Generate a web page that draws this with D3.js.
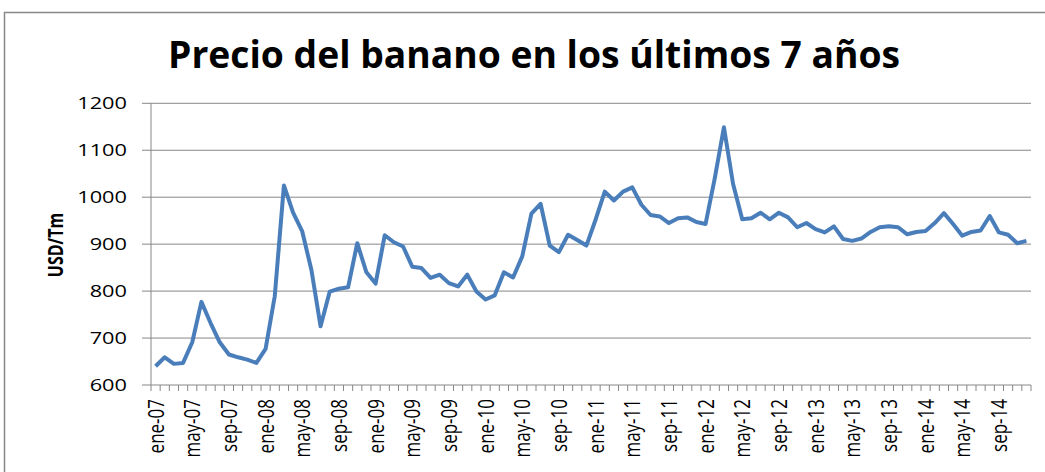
<!DOCTYPE html>
<html><head><meta charset="utf-8">
<script src="https://cdn.jsdelivr.net/npm/d3@7"></script>
<style>body{margin:0;background:#fff}svg{display:block}</style>
</head><body>
<svg id="c" width="1045" height="472"></svg>
<script>
const months = ["ene","feb","mar","abr","may","jun","jul","ago","sep","oct","nov","dic"];
const years = ["07","08","09","10","11","12","13","14"];
const categories = [];
years.forEach(y => months.forEach(m => categories.push(m + "-" + y)));
const prices = [
 640,659,645,647,691,777,732,691,665,659,654,647,
 677,789,1025,967,927,845,725,799,805,808,902,840,
 816,919,904,895,852,849,828,835,817,810,835,799,
 782,791,840,829,874,965,986,897,883,920,909,897,
 952,1012,993,1012,1021,984,962,959,945,955,957,947,
 943,1040,1149,1028,953,955,967,953,967,957,936,945,
 932,925,938,911,907,912,926,936,938,936,921,926,
 928,945,966,943,918,926,929,960,925,920,902,907
];
const yTicks = [600,700,800,900,1000,1100,1200];
const title = "Precio del banano en los últimos 7 años";
const yTitle = "USD/Tm";

const svg = d3.select("#c");
const L = 151, R = 1031, T = 103.3, B = 385;
svg.append("rect").attr("x",4.5).attr("y",12.5).attr("width",1100).attr("height",600)
  .attr("fill","#fff").attr("stroke","#878787").attr("stroke-width",1.5);

const x = d3.scaleBand().domain(categories).range([L,R]);
const y = d3.scaleLinear().domain([600,1200]).range([B,T]);

// gridlines
svg.append("g").selectAll("line").data(yTicks).join("line")
  .attr("x1",L-9).attr("x2",R).attr("y1",d=>y(d)).attr("y2",d=>y(d))
  .attr("stroke","#878787").attr("stroke-width",1);
// y axis
svg.append("line").attr("x1",L).attr("x2",L).attr("y1",T).attr("y2",B).attr("stroke","#878787");
svg.append("g").selectAll("text").data(yTicks).join("text")
  .attr("transform",d=>`translate(127,${y(d)}) scale(1.28,1)`)
  .attr("dy","0.36em").attr("text-anchor","end")
  .attr("font-family","'Open Sans',sans-serif").attr("font-size",17).attr("fill","#000")
  .text(d=>d);
// x axis ticks
const edges = categories.map(c=>x(c)).concat([R]);
svg.append("g").selectAll("line").data(edges).join("line")
  .attr("x1",d=>d).attr("x2",d=>d).attr("y1",B).attr("y2",B+6)
  .attr("stroke","#878787");
svg.append("g").selectAll("text").data(categories.filter((c,i)=>i%4===0)).join("text")
  .attr("transform",d=>`translate(${x(d)+x.bandwidth()/2+8},${B+14}) rotate(-90) scale(1,1.3)`)
  .attr("text-anchor","end")
  .attr("font-family","'Open Sans',sans-serif").attr("font-size",17).attr("fill","#000")
  .text(d=>d);

// line
const line = d3.line().x((d,i)=>x(categories[i])+x.bandwidth()/2).y(d=>y(d));
svg.append("path").datum(prices).attr("d",line).attr("fill","none")
  .attr("stroke","#4a7ebb").attr("stroke-width",4).attr("stroke-linejoin","round");

// titles
svg.append("text").attr("x",534).attr("y",68).attr("text-anchor","middle")
  .attr("font-family","'Open Sans',sans-serif").attr("font-weight","bold").attr("font-size",38)
  .attr("textLength",732).attr("lengthAdjust","spacingAndGlyphs").text(title);
svg.append("text").attr("transform","translate(63,245) rotate(-90) scale(1,1.3)").attr("text-anchor","middle")
  .attr("font-family","'Open Sans',sans-serif").attr("font-weight","bold").attr("font-size",16)
  .text(yTitle);
</script>
</body></html>
